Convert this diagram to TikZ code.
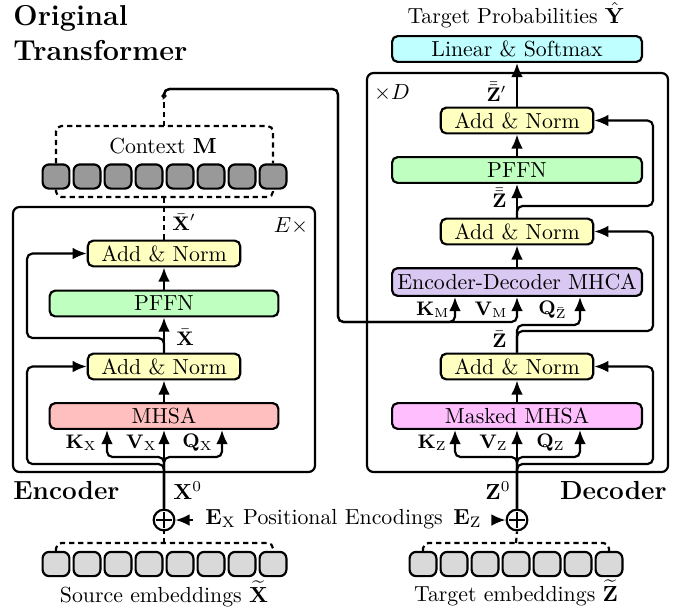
\documentclass[tikz,border=0pt]{standalone}
\usepackage{amsmath}
\usepackage{amssymb}
\usetikzlibrary{arrows.meta}

\definecolor{mhcafill}{HTML}{D9C9F2}
\definecolor{anfill}{HTML}{FFFFC0}
\definecolor{fffill}{HTML}{BFFFBF}
\definecolor{safill}{HTML}{FFBFBF}
\definecolor{masfill}{HTML}{FFBFFF}
\definecolor{linfill}{HTML}{BFFFFF}

\tikzset{
  block/.style={draw, line width=1pt, rounded corners=2.5pt, minimum height=11.8pt, inner sep=1pt},
  addnorm/.style={block, fill=anfill, minimum width=69.9pt},
  encwide/.style={block, minimum width=104.9pt},
  decwide/.style={block, minimum width=114.6pt},
  tok/.style={draw, line width=1pt, rounded corners=3pt, minimum width=12.3pt, minimum height=11.1pt, inner sep=0pt},
  conn/.style={line width=1pt, rounded corners=2.5pt},
  arr/.style={conn, -{Latex[length=6.5pt,width=5.4pt]}},
  dashedline/.style={conn, dash pattern=on 2.4pt off 1.8pt},
  lbl/.style={inner sep=0pt, font=\small},
  plus/.style={draw, circle, line width=1pt, minimum size=9.5pt, inner sep=0pt,
    path picture={
      \draw[line width=0.6pt] ([xshift=-3.6pt]path picture bounding box.center) -- ([xshift=3.6pt]path picture bounding box.center);
      \draw[line width=0.6pt] ([yshift=-3.6pt]path picture bounding box.center) -- ([yshift=3.6pt]path picture bounding box.center);
    }},
}

\begin{document}
\begin{tikzpicture}[x=0.4587pt, y=-0.4587pt]
\useasboundingbox (0,0) rectangle (694,614);

% headings
\node[anchor=base west, inner sep=0pt, font=\fontsize{13.2}{16}\selectfont\bfseries] (title1) at (13,25) {Original};
\node[anchor=base west, inner sep=0pt, font=\fontsize{13.2}{16}\selectfont\bfseries] (title2) at (13,60) {Transformer};

% stack frames
\draw[line width=1pt, rounded corners=3pt] (13,207) rectangle (315,472);
\draw[line width=1pt, rounded corners=3pt] (367,73) rectangle (668,472);
\node[anchor=base west, inner sep=0pt, font=\large\bfseries] (enclbl) at (13,499) {Encoder};
\node[anchor=base east, inner sep=0pt, font=\large\bfseries] (declbl) at (667,499) {Decoder};
\node[inner sep=0pt] (ereps) at (291,226) {$E\times$};
\node[inner sep=0pt] (dreps) at (392,93) {$\times D$};

% encoder blocks
\node[encwide, fill=safill] (mhsa) at (164,416) {MHSA};
\node[addnorm] (an1x) at (164,366.5) {Add \& Norm};
\node[encwide, fill=fffill] (ffx) at (164,303.5) {PFFN};
\node[addnorm] (an2x) at (164,253.5) {Add \& Norm};

% decoder blocks
\node[decwide, fill=masfill] (mmhsa) at (517,416) {Masked MHSA};
\node[addnorm] (an1z) at (517,366.5) {Add \& Norm};
\node[decwide, fill=mhcafill, minimum height=12.7pt] (mhca) at (517,282) {Encoder-Decoder MHCA};
\node[addnorm] (an2z) at (517,231.5) {Add \& Norm};
\node[decwide, fill=fffill] (ffz) at (517,170) {PFFN};
\node[addnorm] (an3z) at (517,120.5) {Add \& Norm};
\node[decwide, fill=linfill] (lin) at (517,49) {Linear \& Softmax};
\node[anchor=base, inner sep=0pt] (yhat) at (516,23) {Target Probabilities $\hat{\mathbf{Y}}$};

% token rows
\foreach \i in {1,...,8} \node[tok, fill=gray!80] (c\i) at ({25+31*\i},176.5) {};
\foreach \i in {1,...,8} \node[tok, fill=gray!30] (s\i) at ({25+31*\i},564) {};
\foreach \i in {1,...,7} \node[tok, fill=gray!30] (t\i) at ({392+31*\i},564) {};
\node[anchor=base, inner sep=0pt] (ctxlbl) at (163,153) {Context $\mathbf{M}$};
\node[anchor=base, inner sep=0pt] (srclbl) at (164,602) {Source embeddings $\widetilde{\mathbf{X}}$};
\node[anchor=base, inner sep=0pt] (tgtlbl) at (516,601) {Target embeddings $\widetilde{\mathbf{Z}}$};

% positional encodings
\node[plus] (plusx) at (164,520) {};
\node[plus] (plusz) at (517,520) {};
\node[anchor=base west, inner sep=0pt] (ex) at (205,524) {$\mathbf{E}_\mathrm{X}$};
\node[anchor=base west, inner sep=0pt] (ez) at (453,524) {$\mathbf{E}_\mathrm{Z}$};
\node[anchor=base, inner sep=0pt] (poslbl) at (343,524) {Positional Encodings};
\draw[arr, shorten <=5.5pt] (ex.west |- plusx.east) -- (plusx.east);
\draw[arr, shorten <=4.6pt] (ez.east |- plusz.west) -- (plusz.west);

% bend points
\coordinate (srcbr) at (164,543);
\coordinate (tgtbr) at (516,543);
\coordinate (ctxtop) at (164,126);
\coordinate (ctxlow) at (164,197);
\coordinate (kxin) at (107,457);
\coordinate (qxin) at (222,457);
\coordinate (rx1) at (27,464);
\coordinate (rx2) at (27,338);
\coordinate (kzin) at (455,457);
\coordinate (qzin) at (580,457);
\coordinate (rz1) at (653,464);
\coordinate (rz2) at (653,331);
\coordinate (rz3) at (653,206);
\coordinate (qzb) at (580,325);
\coordinate (mtop) at (338,89);
\coordinate (kmin) at (455,322);
\coordinate (vmin) at (517,322);

% embeddings into the adders
\draw[dashedline] (s1.north) |- (srcbr) -| (s8.north);
\draw[dashedline] (srcbr) -- (plusx.south);
\draw[dashedline] (t1.north) |- (tgtbr) -| (t7.north);
\draw[dashedline] (tgtbr) -- (plusz.south);

% encoder layer
\draw[arr] (plusx.north) -- (mhsa.south);
\draw[arr] (plusx.north) |- (kxin) -- (kxin |- mhsa.south);
\draw[arr] (plusx.north) |- (qxin) -- (qxin |- mhsa.south);
\draw[arr] (plusx.north) |- (rx1) |- (an1x.west);
\draw[arr] (mhsa.north) -- (an1x.south);
\draw[arr] (an1x.north) -- (ffx.south);
\draw[arr] (an1x.north) |- (rx2) |- (an2x.west);
\draw[arr] (ffx.north) -- (an2x.south);
\node[lbl, anchor=east] at (97,443) {$\mathbf{K}_\mathrm{X}$};
\node[lbl, anchor=east] at (157,443) {$\mathbf{V}_\mathrm{X}$};
\node[lbl, anchor=east] at (213,443) {$\mathbf{Q}_\mathrm{X}$};
\node[inner sep=0pt, anchor=west] at (173,491) {$\mathbf{X}^0$};
\node[lbl, anchor=west] at (176,337) {$\bar{\mathbf{X}}$};

% context
\draw[dashedline] (an2x.north) -- (ctxlow);
\node[lbl, anchor=west] at (172,222) {$\bar{\mathbf{X}}'$};
\draw[dashedline] (c1.south) |- (ctxlow) -| (c8.south);
\draw[dashedline] (c1.north) |- (ctxtop) -| (c8.north);
\node[draw, circle, fill=white, line width=0.6pt, minimum size=1.8pt, inner sep=0pt] (mdot) at (164,96) {};
\draw[dashedline] (ctxtop) -- (mdot.south);
\draw[arr] (mdot.north) |- (mtop) |- (kmin) -- (kmin |- mhca.south);
\draw[arr] (mdot.north) |- (mtop) |- (vmin) -- (vmin |- mhca.south);

% decoder layer
\draw[arr] (plusz.north) -- (mmhsa.south);
\draw[arr] (plusz.north) |- (kzin) -- (kzin |- mmhsa.south);
\draw[arr] (plusz.north) |- (qzin) -- (qzin |- mmhsa.south);
\draw[arr] (plusz.north) |- (rz1) |- (an1z.east);
\draw[arr] (mmhsa.north) -- (an1z.south);
\draw[arr] (an1z.north) |- (qzb) -- (qzb |- mhca.south);
\draw[arr] (an1z.north) |- (rz2) |- (an2z.east);
\draw[arr] (mhca.north) -- (an2z.south);
\draw[arr] (an2z.north) -- (ffz.south);
\draw[arr] (an2z.north) |- (rz3) |- (an3z.east);
\draw[arr] (ffz.north) -- (an3z.south);
\draw[arr] (an3z.north) -- (lin.south);
\node[lbl, anchor=east] at (447,443) {$\mathbf{K}_\mathrm{Z}$};
\node[lbl, anchor=east] at (508,443) {$\mathbf{V}_\mathrm{Z}$};
\node[lbl, anchor=east] at (565,443) {$\mathbf{Q}_\mathrm{Z}$};
\node[lbl, anchor=east] at (450,310) {$\mathbf{K}_\mathrm{M}$};
\node[lbl, anchor=east] at (508,310) {$\mathbf{V}_\mathrm{M}$};
\node[lbl, anchor=east] at (567,310) {$\mathbf{Q}_{\bar{\mathrm{Z}}}$};
\node[inner sep=0pt, anchor=east] at (511,491) {$\mathbf{Z}^0$};
\node[lbl, anchor=east] at (507,339) {$\bar{\mathbf{Z}}$};
\node[lbl, anchor=east] at (507,198) {$\bar{\bar{\mathbf{Z}}}$};
\node[lbl, anchor=east] at (507,92) {$\bar{\bar{\mathbf{Z}}}'$};
\end{tikzpicture}
\end{document}
